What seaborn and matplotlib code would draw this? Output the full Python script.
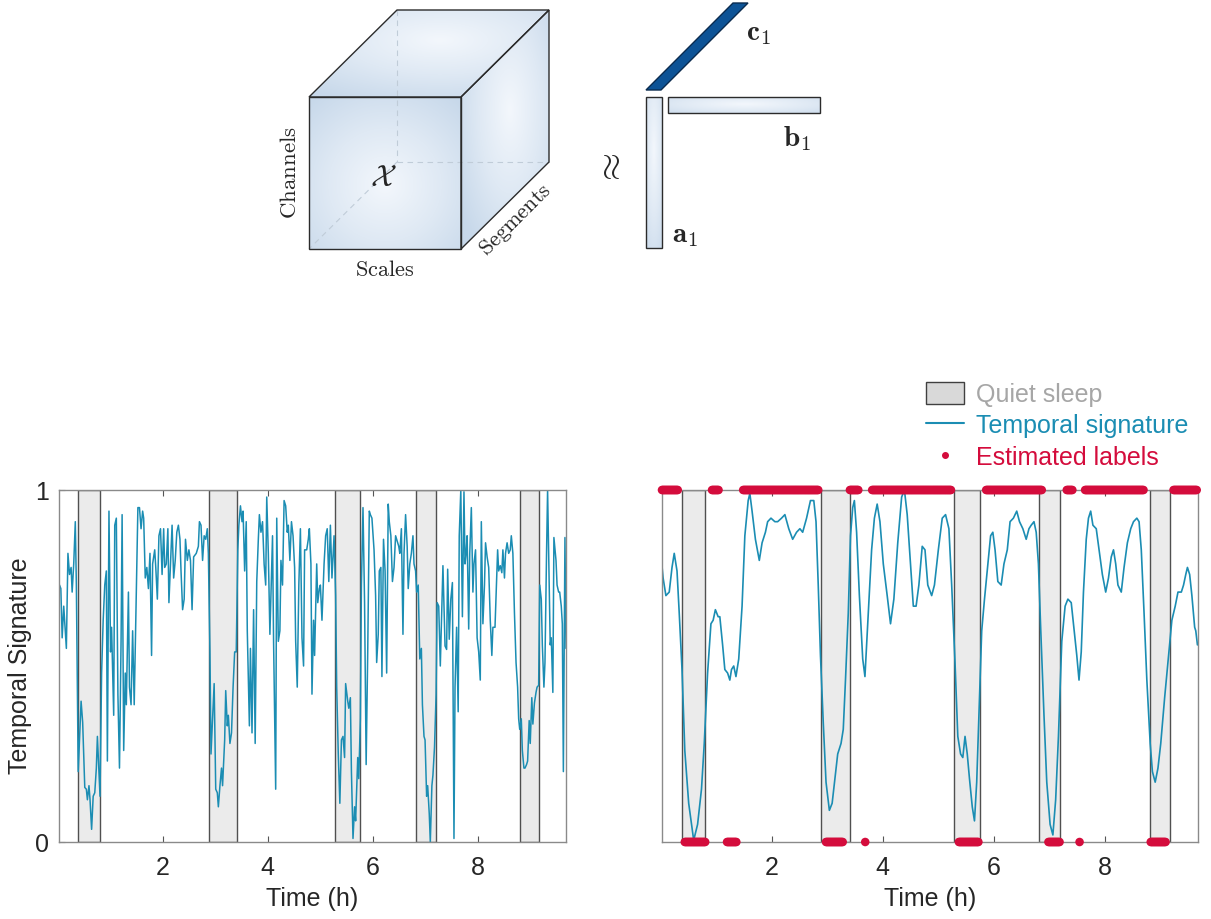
import numpy as np
import matplotlib
matplotlib.use('Agg')
import matplotlib.pyplot as plt
from matplotlib.patches import Polygon, Patch
from matplotlib.lines import Line2D
from matplotlib.colors import LinearSegmentedColormap
import seaborn as sns

# quiet sleep intervals (h)
quiet_start = [0.39, 2.89, 5.28, 6.81, 8.80]
quiet_end = [0.81, 3.42, 5.75, 7.19, 9.16]

# raw temporal signature (left panel)
raw_t = [0.04, 0.065, 0.09, 0.12, 0.17, 0.20, 0.23, 0.26, 0.28, 0.31, 0.34, 0.36, 0.395, 0.42, 0.45, 0.48,
         0.52, 0.55, 0.57, 0.60, 0.62, 0.65, 0.68, 0.71, 0.74, 0.76, 0.79, 0.81, 0.84, 0.87, 0.90, 0.93,
         0.95, 0.98, 1.01, 1.03, 1.07, 1.09, 1.12, 1.15, 1.18, 1.21, 1.23, 1.26, 1.29, 1.31, 1.35, 1.37,
         1.40, 1.43, 1.46, 1.53, 1.56, 1.59, 1.62, 1.64, 1.67, 1.70, 1.73, 1.76, 1.79, 1.81, 1.85, 1.87,
         1.90, 1.93, 1.96, 1.99, 2.02, 2.04, 2.07, 2.10, 2.12, 2.16, 2.18, 2.21, 2.24, 2.27, 2.30, 2.33,
         2.35, 2.38, 2.41, 2.435, 2.47, 2.50, 2.53, 2.56, 2.59, 2.64, 2.68, 2.70, 2.73, 2.76, 2.79, 2.82,
         2.85, 2.87, 2.90, 2.92, 2.95, 2.98, 3.01, 3.04, 3.06, 3.09, 3.12, 3.14, 3.18, 3.20, 3.23, 3.25,
         3.28, 3.31, 3.34, 3.37, 3.40, 3.43, 3.45, 3.48, 3.51, 3.53, 3.56, 3.59, 3.61, 3.65, 3.67, 3.70,
         3.73, 3.76, 3.79, 3.82, 3.84, 3.87, 3.90, 3.93, 3.96, 3.98, 4.01, 4.04, 4.06, 4.09, 4.11, 4.15,
         4.17, 4.20, 4.23, 4.25, 4.28, 4.31, 4.34, 4.37, 4.39, 4.42, 4.45, 4.48, 4.51, 4.53, 4.56, 4.59,
         4.62, 4.65, 4.68, 4.70, 4.74, 4.77, 4.79, 4.82, 4.84, 4.87, 4.89, 4.93, 4.95, 4.98, 5.00, 5.03,
         5.07, 5.10, 5.13, 5.16, 5.19, 5.22, 5.26, 5.29, 5.31, 5.34, 5.37, 5.40, 5.43, 5.46, 5.48, 5.52,
         5.54, 5.57, 5.59, 5.62, 5.65, 5.67, 5.71, 5.73, 5.76, 5.78, 5.81, 5.84, 5.87, 5.90, 5.93, 5.95,
         5.98, 6.02, 6.05, 6.07, 6.10, 6.12, 6.15, 6.17, 6.20, 6.23, 6.26, 6.29, 6.31, 6.34, 6.37, 6.40,
         6.43, 6.45, 6.49, 6.51, 6.54, 6.57, 6.59, 6.62, 6.65, 6.67, 6.70, 6.73, 6.76, 6.78, 6.81, 6.83,
         6.86, 6.89, 6.92, 6.94, 6.97, 6.99, 7.02, 7.04, 7.07, 7.09, 7.12, 7.14, 7.17, 7.20, 7.22, 7.25,
         7.28, 7.33, 7.37, 7.40, 7.42, 7.45, 7.48, 7.51, 7.54, 7.56, 7.59, 7.62, 7.64, 7.67, 7.70, 7.73,
         7.75, 7.77, 7.79, 7.82, 7.84, 7.87, 7.90, 7.92, 7.95, 7.98, 8.01, 8.04, 8.06, 8.09, 8.12, 8.14,
         8.17, 8.20, 8.23, 8.26, 8.28, 8.32, 8.34, 8.37, 8.39, 8.42, 8.45, 8.47, 8.50, 8.52, 8.55, 8.58,
         8.61, 8.63, 8.66, 8.69, 8.72, 8.75, 8.77, 8.79, 8.82, 8.84, 8.87, 8.89, 8.92, 8.94, 8.97, 8.99,
         9.02, 9.04, 9.07, 9.10, 9.12, 9.15, 9.17, 9.20, 9.22, 9.25, 9.27, 9.30, 9.32, 9.34, 9.37, 9.39,
         9.42, 9.44, 9.48, 9.50, 9.53, 9.55, 9.58, 9.60, 9.62, 9.65, 9.67]
raw_v = [0.73, 0.72, 0.58, 0.67, 0.55, 0.82, 0.76, 0.78, 0.71, 0.79, 0.91, 0.73, 0.20, 0.29, 0.40, 0.34,
         0.155, 0.15, 0.12, 0.16, 0.12, 0.036, 0.13, 0.14, 0.21, 0.30, 0.20, 0.13, 0.48, 0.63, 0.73, 0.77,
         0.23, 0.94, 0.54, 0.61, 0.36, 0.90, 0.92, 0.42, 0.21, 0.57, 0.93, 0.26, 0.48, 0.39, 0.71, 0.44,
         0.39, 0.60, 0.39, 0.95, 0.95, 0.89, 0.94, 0.92, 0.75, 0.78, 0.72, 0.82, 0.53, 0.79, 0.83, 0.78,
         0.69, 0.87, 0.89, 0.76, 0.89, 0.78, 0.79, 0.89, 0.68, 0.83, 0.90, 0.75, 0.80, 0.88, 0.90, 0.86,
         0.77, 0.66, 0.69, 0.86, 0.80, 0.83, 0.80, 0.66, 0.81, 0.82, 0.84, 0.91, 0.90, 0.80, 0.87, 0.86,
         0.89, 0.82, 0.54, 0.25, 0.35, 0.45, 0.15, 0.14, 0.10, 0.16, 0.21, 0.16, 0.29, 0.43, 0.33, 0.36,
         0.28, 0.31, 0.44, 0.54, 0.54, 0.83, 0.90, 0.955, 0.91, 0.94, 0.77, 0.91, 0.60, 0.33, 0.55, 0.31,
         0.66, 0.28, 0.74, 0.86, 0.93, 0.88, 0.91, 0.79, 0.73, 0.98, 0.82, 0.59, 0.70, 0.87, 0.57, 0.15,
         0.92, 0.57, 0.60, 0.80, 0.73, 0.97, 0.955, 0.88, 0.90, 0.80, 0.91, 0.87, 0.78, 0.57, 0.44, 0.73,
         0.89, 0.58, 0.50, 0.83, 0.83, 0.86, 0.89, 0.79, 0.42, 0.63, 0.53, 0.79, 0.68, 0.72, 0.73, 0.63,
         0.79, 0.87, 0.89, 0.74, 0.90, 0.75, 0.87, 0.70, 0.44, 0.25, 0.11, 0.29, 0.30, 0.24, 0.45, 0.40,
         0.38, 0.41, 0.20, 0.01, 0.10, 0.06, 0.24, 0.18, 0.35, 0.73, 0.95, 0.68, 0.22, 0.54, 0.94, 0.93,
         0.92, 0.83, 0.70, 0.51, 0.59, 0.77, 0.78, 0.47, 0.86, 0.77, 0.48, 0.96, 0.91, 0.87, 0.74, 0.78,
         0.87, 0.86, 0.84, 0.82, 0.89, 0.59, 0.82, 0.93, 0.84, 0.72, 0.79, 0.82, 0.87, 0.79, 0.77, 0.71,
         0.73, 0.52, 0.55, 0.39, 0.30, 0.29, 0.13, 0.16, 0.08, 0.00, 0.16, 0.19, 0.27, 0.42, 0.68, 0.67,
         0.50, 0.785, 0.557, 0.547, 0.775, 0.576, 0.69, 0.737, 0.01, 0.44, 0.61, 0.37, 0.87, 1.00, 0.64, 0.995,
         0.79, 0.82, 0.87, 0.605, 0.82, 0.95, 0.71, 0.79, 0.83, 0.58, 0.54, 0.46, 0.91, 0.62, 0.73, 0.85,
         0.81, 0.78, 0.63, 0.53, 0.61, 0.61, 0.70, 0.83, 0.77, 0.785, 0.765, 0.83, 0.75, 0.82, 0.85, 0.82,
         0.83, 0.87, 0.82, 0.65, 0.51, 0.44, 0.35, 0.32, 0.35, 0.26, 0.21, 0.21, 0.22, 0.23, 0.345, 0.28,
         0.41, 0.335, 0.395, 0.425, 0.44, 0.445, 0.73, 0.69, 0.56, 0.44, 0.51, 0.82, 1.00, 0.82, 0.56, 0.58,
         0.425, 0.865, 0.80, 0.73, 0.71, 0.71, 0.67, 0.62, 0.20, 0.865, 0.55]

# smoothed temporal signature (right panel)
smooth_t = [0.02, 0.05, 0.10, 0.16, 0.21, 0.25, 0.30, 0.34, 0.39, 0.44, 0.51, 0.60, 0.67, 0.74, 0.79, 0.85,
            0.91, 0.95, 0.99, 1.04, 1.07, 1.12, 1.16, 1.21, 1.25, 1.28, 1.32, 1.36, 1.41, 1.47, 1.52, 1.58,
            1.61, 1.65, 1.71, 1.78, 1.83, 1.89, 1.93, 1.99, 2.06, 2.11, 2.18, 2.24, 2.31, 2.38, 2.45, 2.51,
            2.56, 2.63, 2.70, 2.76, 2.80, 2.84, 2.88, 2.93, 2.98, 3.04, 3.09, 3.14, 3.19, 3.25, 3.29, 3.33,
            3.38, 3.42, 3.46, 3.49, 3.53, 3.58, 3.64, 3.68, 3.74, 3.80, 3.85, 3.90, 3.95, 4.01, 4.08, 4.14,
            4.20, 4.27, 4.34, 4.39, 4.44, 4.50, 4.55, 4.60, 4.65, 4.71, 4.76, 4.81, 4.88, 4.93, 5.00, 5.07,
            5.13, 5.19, 5.24, 5.30, 5.35, 5.40, 5.44, 5.48, 5.52, 5.56, 5.61, 5.65, 5.69, 5.74, 5.78, 5.83,
            5.89, 5.94, 5.98, 6.02, 6.07, 6.13, 6.18, 6.24, 6.29, 6.35, 6.41, 6.46, 6.52, 6.58, 6.63, 6.67,
            6.72, 6.76, 6.80, 6.84, 6.90, 6.95, 7.01, 7.06, 7.11, 7.16, 7.22, 7.28, 7.33, 7.39, 7.43, 7.49,
            7.53, 7.57, 7.61, 7.66, 7.70, 7.74, 7.78, 7.84, 7.89, 7.95, 8.01, 8.06, 8.11, 8.15, 8.19, 8.23,
            8.29, 8.34, 8.40, 8.46, 8.51, 8.57, 8.61, 8.65, 8.70, 8.75, 8.81, 8.85, 8.90, 8.95, 9.00, 9.07,
            9.14, 9.20, 9.26, 9.31, 9.37, 9.41, 9.45, 9.48, 9.52, 9.56, 9.61, 9.63, 9.66]
smooth_v = [0.80, 0.75, 0.70, 0.71, 0.78, 0.82, 0.77, 0.65, 0.49, 0.26, 0.11, 0.005, 0.05, 0.15, 0.28, 0.48,
            0.62, 0.63, 0.66, 0.64, 0.64, 0.56, 0.49, 0.48, 0.46, 0.49, 0.50, 0.47, 0.52, 0.67, 0.87, 0.97,
            0.99, 0.94, 0.86, 0.80, 0.85, 0.88, 0.91, 0.92, 0.91, 0.91, 0.92, 0.93, 0.89, 0.86, 0.88, 0.89,
            0.88, 0.92, 0.97, 0.97, 0.91, 0.73, 0.53, 0.34, 0.17, 0.09, 0.11, 0.18, 0.25, 0.28, 0.32, 0.46,
            0.65, 0.87, 0.95, 0.97, 0.88, 0.70, 0.52, 0.47, 0.65, 0.83, 0.92, 0.96, 0.91, 0.79, 0.70, 0.62,
            0.69, 0.85, 0.98, 1.00, 0.93, 0.79, 0.67, 0.67, 0.73, 0.84, 0.83, 0.73, 0.70, 0.73, 0.83, 0.92,
            0.93, 0.89, 0.73, 0.51, 0.30, 0.25, 0.24, 0.30, 0.25, 0.18, 0.10, 0.06, 0.17, 0.41, 0.60, 0.69,
            0.79, 0.87, 0.88, 0.83, 0.74, 0.73, 0.79, 0.83, 0.91, 0.92, 0.94, 0.91, 0.89, 0.86, 0.89, 0.90,
            0.91, 0.88, 0.79, 0.61, 0.36, 0.17, 0.05, 0.02, 0.12, 0.30, 0.57, 0.67, 0.69, 0.68, 0.62, 0.53,
            0.46, 0.54, 0.71, 0.86, 0.92, 0.94, 0.90, 0.89, 0.83, 0.76, 0.71, 0.75, 0.81, 0.83, 0.79, 0.73,
            0.71, 0.78, 0.85, 0.89, 0.91, 0.92, 0.91, 0.83, 0.65, 0.46, 0.28, 0.20, 0.17, 0.21, 0.28, 0.41,
            0.53, 0.63, 0.67, 0.71, 0.71, 0.73, 0.76, 0.78, 0.76, 0.70, 0.61, 0.60, 0.56]

# estimated labels: runs of equal label (start h, end h, label)
lab_start = [0.03, 0.44, 0.93, 1.20, 1.49, 2.98, 3.41, 3.685, 3.81, 5.37, 5.86, 6.98, 7.31, 7.54, 7.64, 8.82, 9.23]
lab_end = [0.32, 0.81, 1.06, 1.37, 2.84, 3.29, 3.57, 3.685, 5.23, 5.73, 6.86, 7.18, 7.42, 7.54, 8.69, 9.09, 9.66]
lab_value = [1, 0, 1, 0, 1, 0, 1, 0, 1, 0, 1, 0, 1, 0, 1, 0, 1]

teal = '#1b8db3'
red = '#d40c3c'

sns.set_style('ticks')
plt.rcParams['font.family'] = ['Liberation Sans', 'DejaVu Sans']
plt.rcParams['mathtext.fontset'] = 'cm'

fig = plt.figure(figsize=(12.11, 9.19), dpi=100)

# ---- tensor sketch on top (pixel coordinates) ----
ax0 = fig.add_axes([0, 0, 1, 1])
ax0.set_zorder(0)
blue_cmap = LinearSegmentedColormap.from_list('cube', ['#f3f7fc', '#dfe9f4', '#c7d8ea'])


def shaded_face(verts, center, spread=0.75):
    poly = Polygon(verts, closed=True, facecolor='none', edgecolor='#2b2b2b', lw=1.0, zorder=4)
    ax0.add_patch(poly)
    xs = [p[0] for p in verts]
    ys = [p[1] for p in verts]
    x0, x1, y0, y1 = min(xs), max(xs), min(ys), max(ys)
    gx, gy = np.meshgrid(np.linspace(x0, x1, 120), np.linspace(y0, y1, 120))
    r = np.hypot((gx - center[0]) / max(x1 - x0, 1), (gy - center[1]) / max(y1 - y0, 1))
    im = ax0.imshow(r, extent=(x0, x1, y1, y0), cmap=blue_cmap, vmin=0, vmax=spread,
                    origin='upper', aspect='auto', zorder=2, interpolation='bilinear')
    im.set_clip_path(poly)


front = [(309, 97), (461, 97), (461, 249), (309, 249)]
top = [(309, 97), (397, 10), (549, 10), (461, 97)]
side = [(461, 97), (549, 10), (549, 162), (461, 249)]
shaded_face(front, (385, 185))
shaded_face(top, (440, 40), 0.8)
shaded_face(side, (510, 110), 0.7)
for seg in [[(397, 10), (397, 162)], [(397, 162), (549, 162)], [(397, 162), (309, 249)]]:
    ax0.plot([seg[0][0], seg[1][0]], [seg[0][1], seg[1][1]], color='#c0ccd8', lw=0.8,
             ls=(0, (5, 4)), zorder=3)

shaded_face([(646, 97), (662, 97), (662, 248), (646, 248)], (654, 150), 0.9)
shaded_face([(668, 97), (820, 97), (820, 113), (668, 113)], (745, 104), 0.9)
ax0.add_patch(Polygon([(646, 90), (661, 90), (748, 3), (733, 3)], closed=True,
                      facecolor='#0d5396', edgecolor='#0a2b4f', lw=1.0, zorder=4))

ax0.text(383, 178, r'$\mathcal{X}$', fontsize=22, ha='center', va='center', zorder=5)
ax0.text(290, 173, r'$\mathrm{Channels}$', fontsize=16.5, rotation=90, ha='center', va='center')
ax0.text(385, 270, r'$\mathrm{Scales}$', fontsize=16, ha='center', va='center')
ax0.text(516, 220, r'$\mathrm{Segments}$', fontsize=16, rotation=45, ha='center', va='center',
         rotation_mode='anchor')
ax0.text(611, 170, r'$\approx$', fontsize=26, rotation=90, ha='center', va='center')
ax0.text(758, 33, r'$\mathbf{c}_1$', fontsize=21, ha='center', va='center')
ax0.text(797, 139, r'$\mathbf{b}_1$', fontsize=21, ha='center', va='center')
ax0.text(685, 235, r'$\mathbf{a}_1$', fontsize=21, ha='center', va='center')
ax0.set_xlim(0, 1211)
ax0.set_ylim(919, 0)
ax0.axis('off')


# ---- bottom panels ----
def matlab_axes(ax):
    for s in ax.spines.values():
        s.set_visible(True)
        s.set_color('#8a8a8a')
        s.set_linewidth(1.0)
    ax.tick_params(direction='in', top=True, right=False, length=4, width=0.8, colors='#555555',
                   labelsize=18, labelcolor='#262626', pad=10)
    ax.set_xlim(0.03, 9.67)
    ax.set_ylim(0, 1)
    ax.set_xticks([2, 4, 6, 8])
    ax.set_xlabel('Time (h)', fontsize=18, color='#262626', labelpad=5)
    for s, e in zip(quiet_start, quiet_end):
        ax.axvspan(s, e, facecolor='#ebebeb', edgecolor='#505050', lw=1.0, zorder=0)


ax1 = fig.add_axes([59 / 1211, 77 / 919, 507 / 1211, 352 / 919])
ax1.set_zorder(1)
matlab_axes(ax1)
sns.lineplot(x=raw_t, y=raw_v, ax=ax1, color=teal, lw=1.1, estimator=None, sort=False)
ax1.set_yticks([0, 1])
ax1.tick_params(axis='y', pad=7)
ax1.set_ylabel('Temporal Signature', fontsize=18, color='#262626', labelpad=2)

ax2 = fig.add_axes([662 / 1211, 77 / 919, 536 / 1211, 352 / 919])
ax2.set_zorder(1)
matlab_axes(ax2)
sns.lineplot(x=smooth_t, y=smooth_v, ax=ax2, color=teal, lw=1.2, estimator=None, sort=False)

lab_t, lab_y = [], []
for s, e, v in zip(lab_start, lab_end, lab_value):
    pts = np.arange(s, e + 1e-6, 1 / 60) if e > s else np.array([s])
    lab_t.extend(pts)
    lab_y.extend([v] * len(pts))
sns.scatterplot(x=lab_t, y=lab_y, ax=ax2, color=red, s=38, edgecolor='none', linewidth=0,
                clip_on=False, zorder=6)
ax2.set_yticks([])
ax2.set_xlim(0.03, 9.67)
ax2.set_ylim(0, 1)

handles = [Patch(facecolor='#d9d9d9', edgecolor='#404040', lw=1.0),
           Line2D([], [], color=teal, lw=1.5),
           Line2D([], [], color=red, marker='.', ls='none', markersize=8)]
leg = fig.legend(handles, ['Quiet sleep', 'Temporal signature', 'Estimated labels'],
                 loc='upper left', bbox_to_anchor=(926 / 1211, 1 - 382 / 919), frameon=False,
                 fontsize=18, handlelength=1.5, handleheight=1.0, handletextpad=0.5,
                 labelspacing=0.27, borderpad=0, borderaxespad=0)
for txt, c in zip(leg.get_texts(), ['#a6a6a6', teal, red]):
    txt.set_color(c)

fig.savefig('out.png', dpi=100)
